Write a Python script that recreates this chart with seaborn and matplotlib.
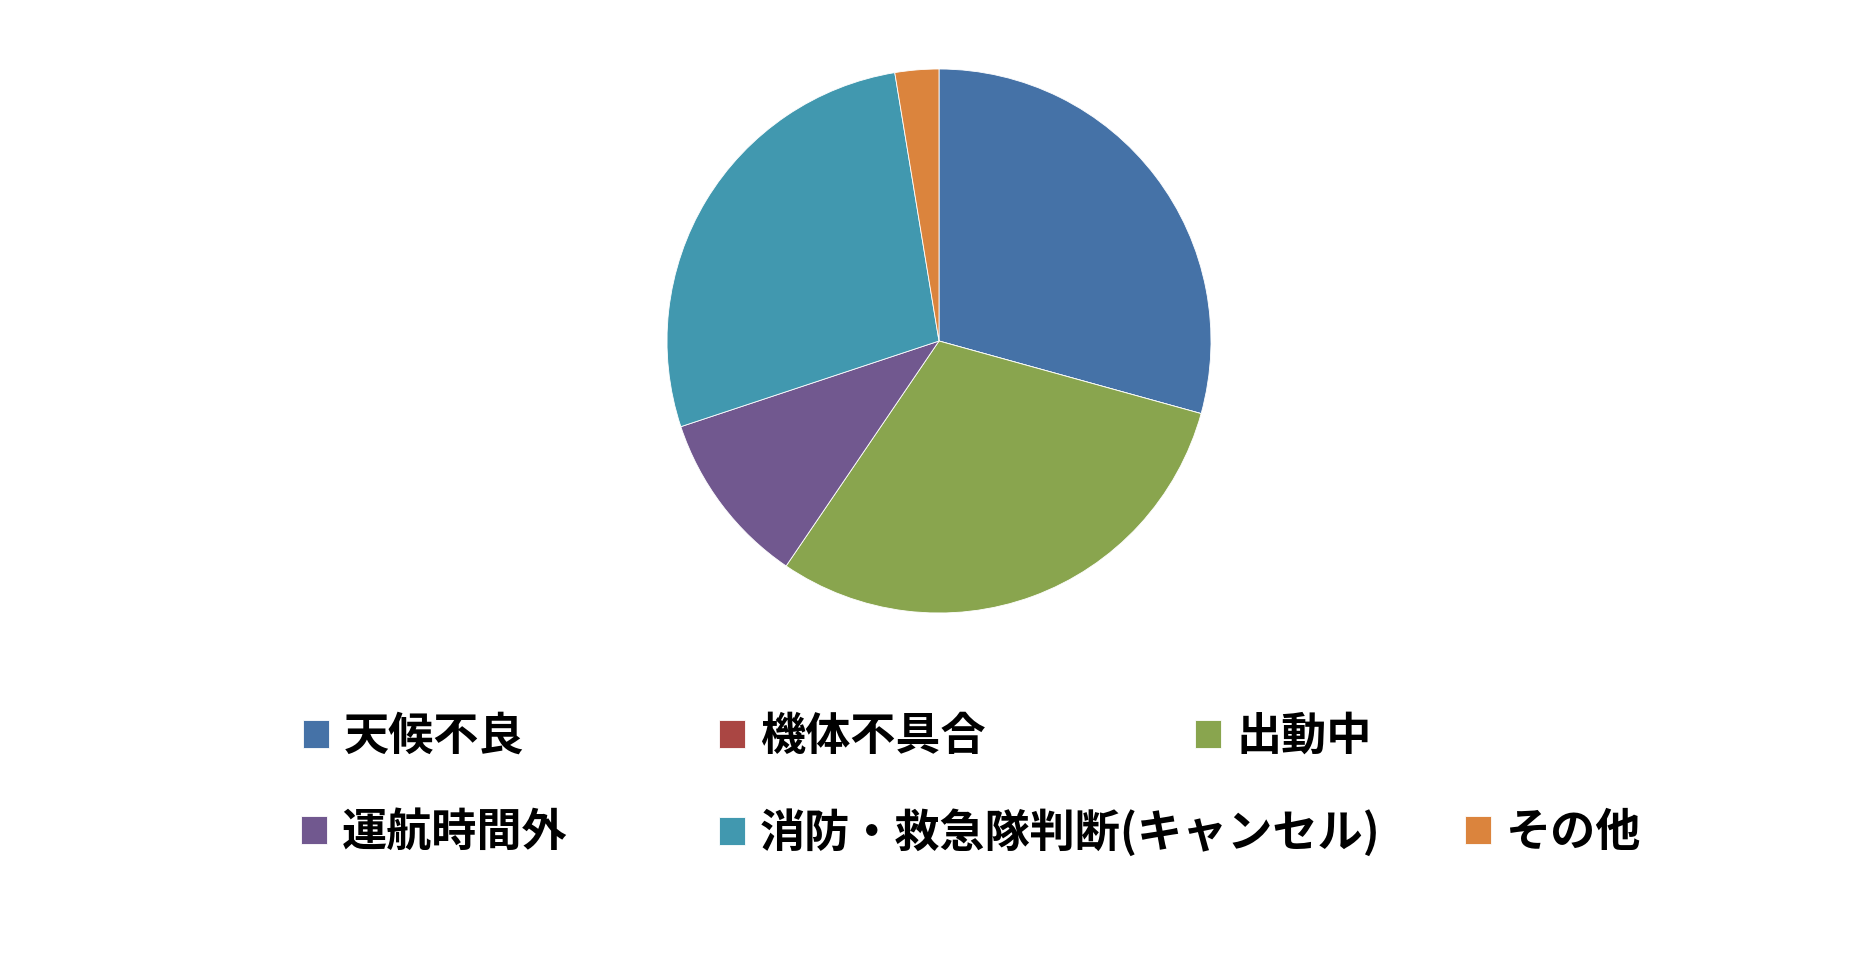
import matplotlib
matplotlib.use("Agg")
import matplotlib.pyplot as plt
import seaborn as sns

# データ（円グラフの読み取り値, %）
categories = ["天候不良", "機体不具合", "出動中", "運航時間外", "消防・救急隊判断(キャンセル)", "その他"]
values = [29.3, 0.0, 30.2, 10.4, 27.5, 2.6]
colors = ["#4572A7", "#AA4643", "#89A54E", "#71588F", "#4198AF", "#DB843D"]

sns.set_theme(style="white")
plt.rcParams["font.family"] = ["Noto Sans CJK JP", "DejaVu Sans"]

W, H = 1876, 960
fig = plt.figure(figsize=(W / 100, H / 100), dpi=100)
fig.patch.set_facecolor("white")

# 円グラフ
cx, cy, r = 939, 619, 272
ax = fig.add_axes([(cx - r) / W, (cy - r) / H, 2 * r / W, 2 * r / H])
wedges, _ = ax.pie(values, colors=colors, startangle=90, counterclock=False,
                   wedgeprops=dict(edgecolor="white", linewidth=0.6))
ax.set_xlim(-1, 1)
ax.set_ylim(-1, 1)
ax.axis("off")

# 凡例（Excel風に2行3列, 各項目を個別に配置）
legend_pos = [(303, 737), (719, 737), (1195, 737),
              (301, 833), (719, 833), (1465, 833)]
for wedge, label, (lx, ly) in zip(wedges, categories, legend_pos):
    leg = fig.legend([wedge], [label], loc="center left",
                     bbox_to_anchor=(lx / W, 1 - ly / H), bbox_transform=fig.transFigure,
                     frameon=False, borderpad=0, borderaxespad=0,
                     handlelength=0.58, handleheight=0.58, handletextpad=0.33,
                     prop=dict(size=32.5, weight="bold"))
    leg.get_texts()[0].set_color("black")

fig.savefig("out.png", dpi=100, facecolor="white")
